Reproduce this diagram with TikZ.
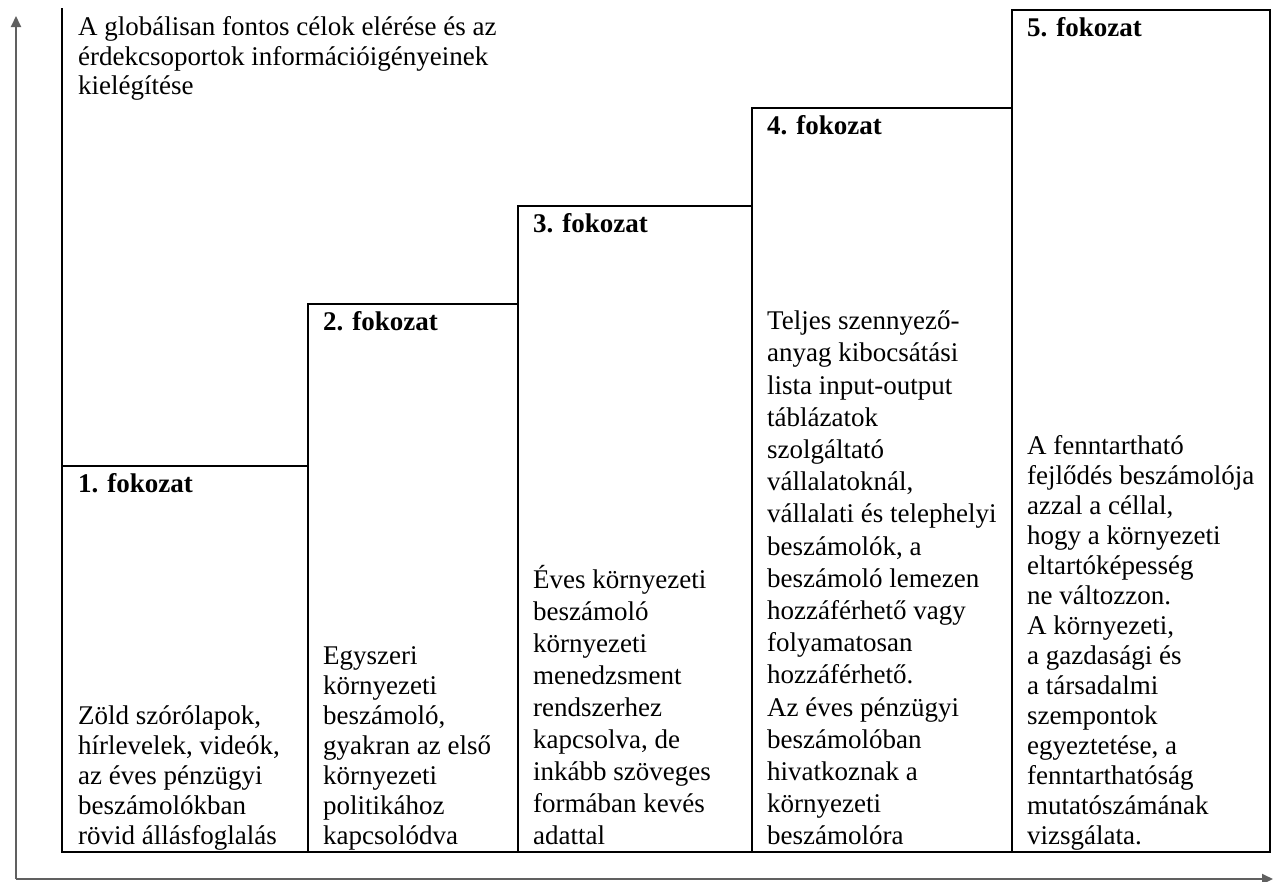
\documentclass[tikz,border=0pt]{standalone}
\usepackage{fontspec}
\setmainfont{Liberation Serif}
\usetikzlibrary{arrows.meta}
\definecolor{axisgray}{HTML}{606060}
\begin{document}
\begin{tikzpicture}[x=1pt,y=-1pt,
  stair/.style={draw=black,line width=2.6pt},
  axisline/.style={draw=axisgray,line width=2pt,-{Triangle[length=11pt,width=10pt]}},
  bodytext/.style={anchor=south west,inner sep=0pt,align=left,text depth=0pt,font=\fontsize{27}{30}\selectfont},
  toptext/.style={anchor=south west,inner sep=0pt,align=left,text depth=0pt,font=\fontsize{27}{29.5}\selectfont},
  steplabel/.style={anchor=base west,inner sep=0pt,font=\fontsize{27}{30}\selectfont\bfseries}]
\useasboundingbox (0,0) rectangle (1273,881);
% axes
\coordinate (o) at (16,879);
\coordinate (ytip) at (16,16);
\coordinate (xtip) at (1273,879);
\draw[axisline] (o) -- (ytip);
\draw[axisline] (o) -- (xtip);
% stairs
\draw[stair] (62,8) -- (62,466);
\draw[stair] (62,466) rectangle (308,852);
\draw[stair] (308,304) rectangle (518,852);
\draw[stair] (518,206) rectangle (752,852);
\draw[stair] (752,108) rectangle (1012,852);
\draw[stair] (1012,10) rectangle (1270,852);
% top text
\node[toptext] (goal) at (78,95) {A globálisan fontos célok elérése és az\\érdekcsoportok információigényeinek\\kielégítése};
% labels
\node[steplabel] (l1) at (78,492) {1. fokozat};
\node[steplabel] (l2) at (323,330) {2. fokozat};
\node[steplabel] (l3) at (533,232) {3. fokozat};
\node[steplabel] (l4) at (767,134) {4. fokozat};
\node[steplabel] (l5) at (1027,36) {5. fokozat};
% bodies
\node[bodytext] (b1) at (78,845) {Zöld szórólapok,\\hírlevelek, videók,\\az éves pénzügyi\\beszámolókban\\rövid állásfoglalás};
\node[bodytext] (b2) at (323,845) {Egyszeri\\környezeti\\beszámoló,\\gyakran az első\\környezeti\\politikához\\kapcsolódva};
\node[bodytext,font=\fontsize{27}{32}\selectfont] (b3) at (533,845) {Éves környezeti\\beszámoló\\környezeti\\menedzsment\\rendszerhez\\kapcsolva, de\\inkább szöveges\\formában kevés\\adattal};
\node[bodytext,font=\fontsize{27}{32.2}\selectfont] (b4) at (767,845) {Teljes szennyező-\\anyag kibocsátási\\lista input-output\\táblázatok\\szolgáltató\\vállalatoknál,\\vállalati és telephelyi\\beszámolók, a\\beszámoló lemezen\\hozzáférhető vagy\\folyamatosan\\hozzáférhető.\\Az éves pénzügyi\\beszámolóban\\hivatkoznak a\\környezeti\\beszámolóra};
\node[bodytext] (b5) at (1027,845) {A fenntartható\\fejlődés beszámolója\\azzal a céllal,\\hogy a környezeti\\eltartóképesség\\ne változzon.\\A környezeti,\\a gazdasági és\\a társadalmi\\szempontok\\egyeztetése, a\\fenntarthatóság\\mutatószámának\\vizsgálata.};
\end{tikzpicture}
\end{document}
